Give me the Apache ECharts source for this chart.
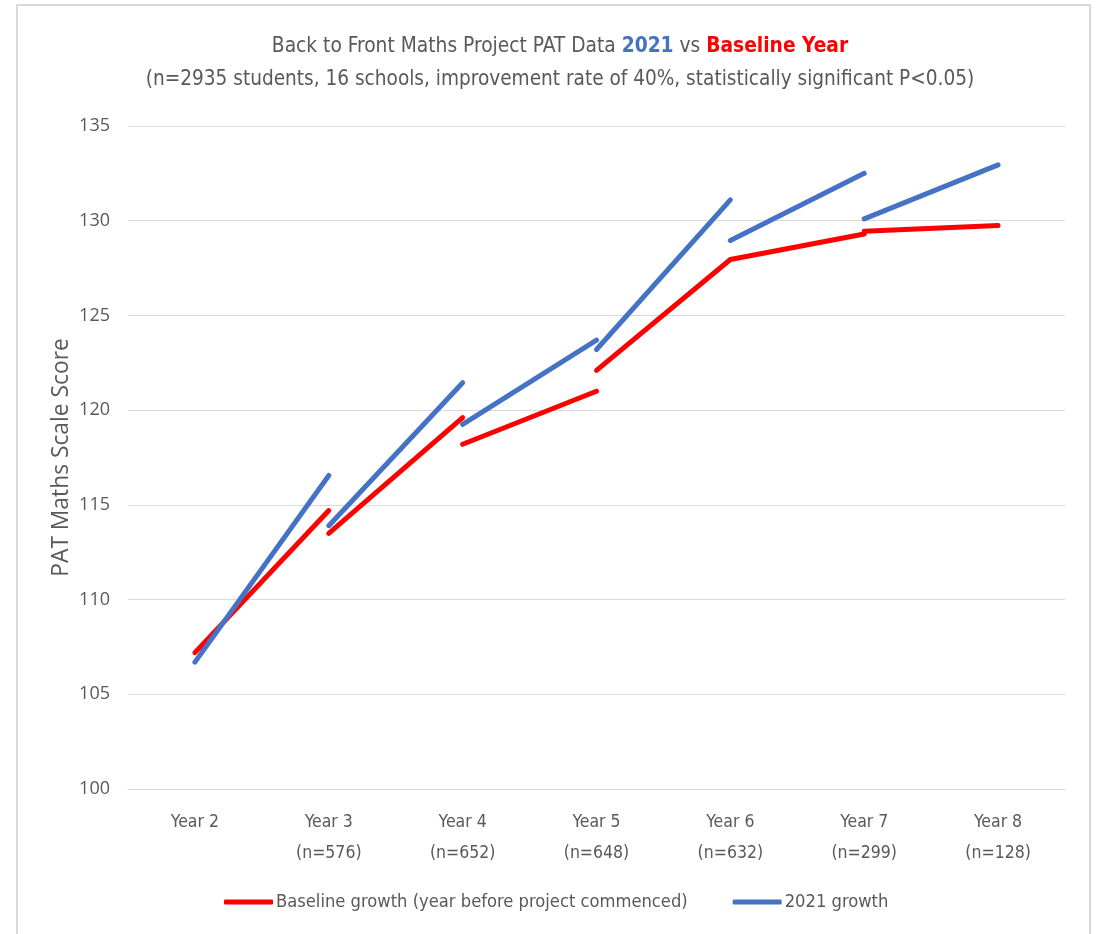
<!DOCTYPE html>
<html>
<head>
<meta charset="utf-8">
<script src="https://cdn.jsdelivr.net/npm/echarts@6/dist/echarts.min.js"></script>
<style>
html,body{margin:0;padding:0;background:#fff;}
#chart{width:1097px;height:934px;}
</style>
</head>
<body>
<div id="chart"></div>
<script>
// ---- Data ----
const categories = ['Year 2', 'Year 3', 'Year 4', 'Year 5', 'Year 6', 'Year 7', 'Year 8'];
const sampleSizes = ['', '576', '652', '648', '632', '299', '128'];
const yTicks = [100, 105, 110, 115, 120, 125, 130, 135];

const baselineName = 'Baseline growth (year before project commenced)';
const growthName = '2021 growth';

// Baseline (red) segments
const baselineSeg1 = [107.2, 114.7, null, null, null, null, null];
const baselineSeg2 = [null, 113.5, 119.6, null, null, null, null];
const baselineSeg3 = [null, null, 118.2, 121.0, null, null, null];
const baselineSeg4 = [null, null, null, 122.1, 127.95, 129.3, null];
const baselineSeg5 = [null, null, null, null, null, 129.45, 129.75];

// 2021 (blue) segments
const growthSeg1 = [106.7, 116.55, null, null, null, null, null];
const growthSeg2 = [null, 113.9, 121.45, null, null, null, null];
const growthSeg3 = [null, null, 119.25, 123.7, null, null, null];
const growthSeg4 = [null, null, null, 123.2, 131.1, null, null];
const growthSeg5 = [null, null, null, null, 128.95, 132.5, null];
const growthSeg6 = [null, null, null, null, null, 130.1, 132.95];

const RED = '#FF0000';
const BLUE = '#4472C4';
const TEXT = '#595959';
const NARROW = '"DejaVu Sans Condensed", "Liberation Sans Narrow", sans-serif';
const WIDE = '"Open Sans", "Noto Sans", sans-serif';

const xLabels = categories.map((c, i) => sampleSizes[i] ? c + '\n(n=' + sampleSizes[i] + ')' : c);

function seg(name, data, color) {
  return {
    name: name,
    type: 'line',
    data: data,
    symbol: 'none',
    connectNulls: false,
    lineStyle: { color: color, width: 5, cap: 'round', join: 'round' },
    itemStyle: { color: color },
    emphasis: { disabled: true },
    animation: false
  };
}

const series = [
  seg(baselineName, baselineSeg1, RED),
  seg(baselineName, baselineSeg2, RED),
  seg(baselineName, baselineSeg3, RED),
  seg(baselineName, baselineSeg4, RED),
  seg(baselineName, baselineSeg5, RED),
  seg(growthName, growthSeg1, BLUE),
  seg(growthName, growthSeg2, BLUE),
  seg(growthName, growthSeg3, BLUE),
  seg(growthName, growthSeg4, BLUE),
  seg(growthName, growthSeg5, BLUE),
  seg(growthName, growthSeg6, BLUE)
];

const chart = echarts.init(document.getElementById('chart'), null, { renderer: 'canvas' });
chart.setOption({
  animation: false,
  backgroundColor: '#fff',
  graphic: [{
    type: 'rect',
    shape: { x: 17, y: 5, width: 1073, height: 1000 },
    style: { fill: 'none', stroke: '#d9d9d9', lineWidth: 2 },
    silent: true
  }],
  title: {
    left: 560,
    textAlign: 'center',
    top: 30,
    padding: 0,
    text: '{a|Back to Front Maths Project PAT Data }{b|2021}{a| vs }{c|Baseline Year}\n{d|(n=2935 students, 16 schools, improvement rate of 40%, statistically significant P<0.05)}',
    textStyle: {
      fontFamily: NARROW,
      fontWeight: 'normal',
      rich: {
        a: { fontFamily: NARROW, fontSize: 20.75, color: TEXT, fontWeight: 'normal', lineHeight: 33 },
        b: { fontFamily: NARROW, fontSize: 20.75, color: BLUE, fontWeight: 'bold', lineHeight: 33 },
        c: { fontFamily: NARROW, fontSize: 20.75, color: RED, fontWeight: 'bold', lineHeight: 33 },
        d: { fontFamily: NARROW, fontSize: 20.6, color: TEXT, fontWeight: 'normal', lineHeight: 33 }
      }
    }
  },
  legend: {
    bottom: 23,
    left: 224,
    padding: 0,
    icon: 'roundRect',
    itemWidth: 49,
    itemHeight: 5,
    itemGap: 45,
    data: [
      { name: baselineName, itemStyle: { color: RED } },
      { name: growthName, itemStyle: { color: BLUE } }
    ],
    textStyle: { fontFamily: NARROW, fontSize: 18.2, color: TEXT, padding: [0, 0, 0, -2] },
    selectedMode: false
  },
  grid: { left: 128, right: 32, top: 126, bottom: 145, containLabel: false },
  xAxis: {
    type: 'category',
    data: xLabels,
    boundaryGap: true,
    axisLine: { lineStyle: { color: '#d9d9d9', width: 1 } },
    axisTick: { show: false },
    axisLabel: {
      fontFamily: NARROW, fontSize: 17.5, color: TEXT, lineHeight: 31, margin: 18,
      interval: 0
    }
  },
  yAxis: {
    type: 'value',
    min: yTicks[0],
    max: yTicks[yTicks.length - 1],
    interval: 5,
    name: 'PAT Maths Scale Score',
    nameLocation: 'middle',
    nameGap: 55,
    nameMoveOverlap: false,
    nameTextStyle: { fontFamily: WIDE, fontSize: 22.8, color: TEXT },
    axisLine: { show: false },
    axisTick: { show: false },
    splitLine: { lineStyle: { color: '#d9d9d9', width: 1 } },
    axisLabel: { fontFamily: WIDE, fontSize: 18, color: TEXT, margin: 18 }
  },
  series: series
});
</script>
</body>
</html>
